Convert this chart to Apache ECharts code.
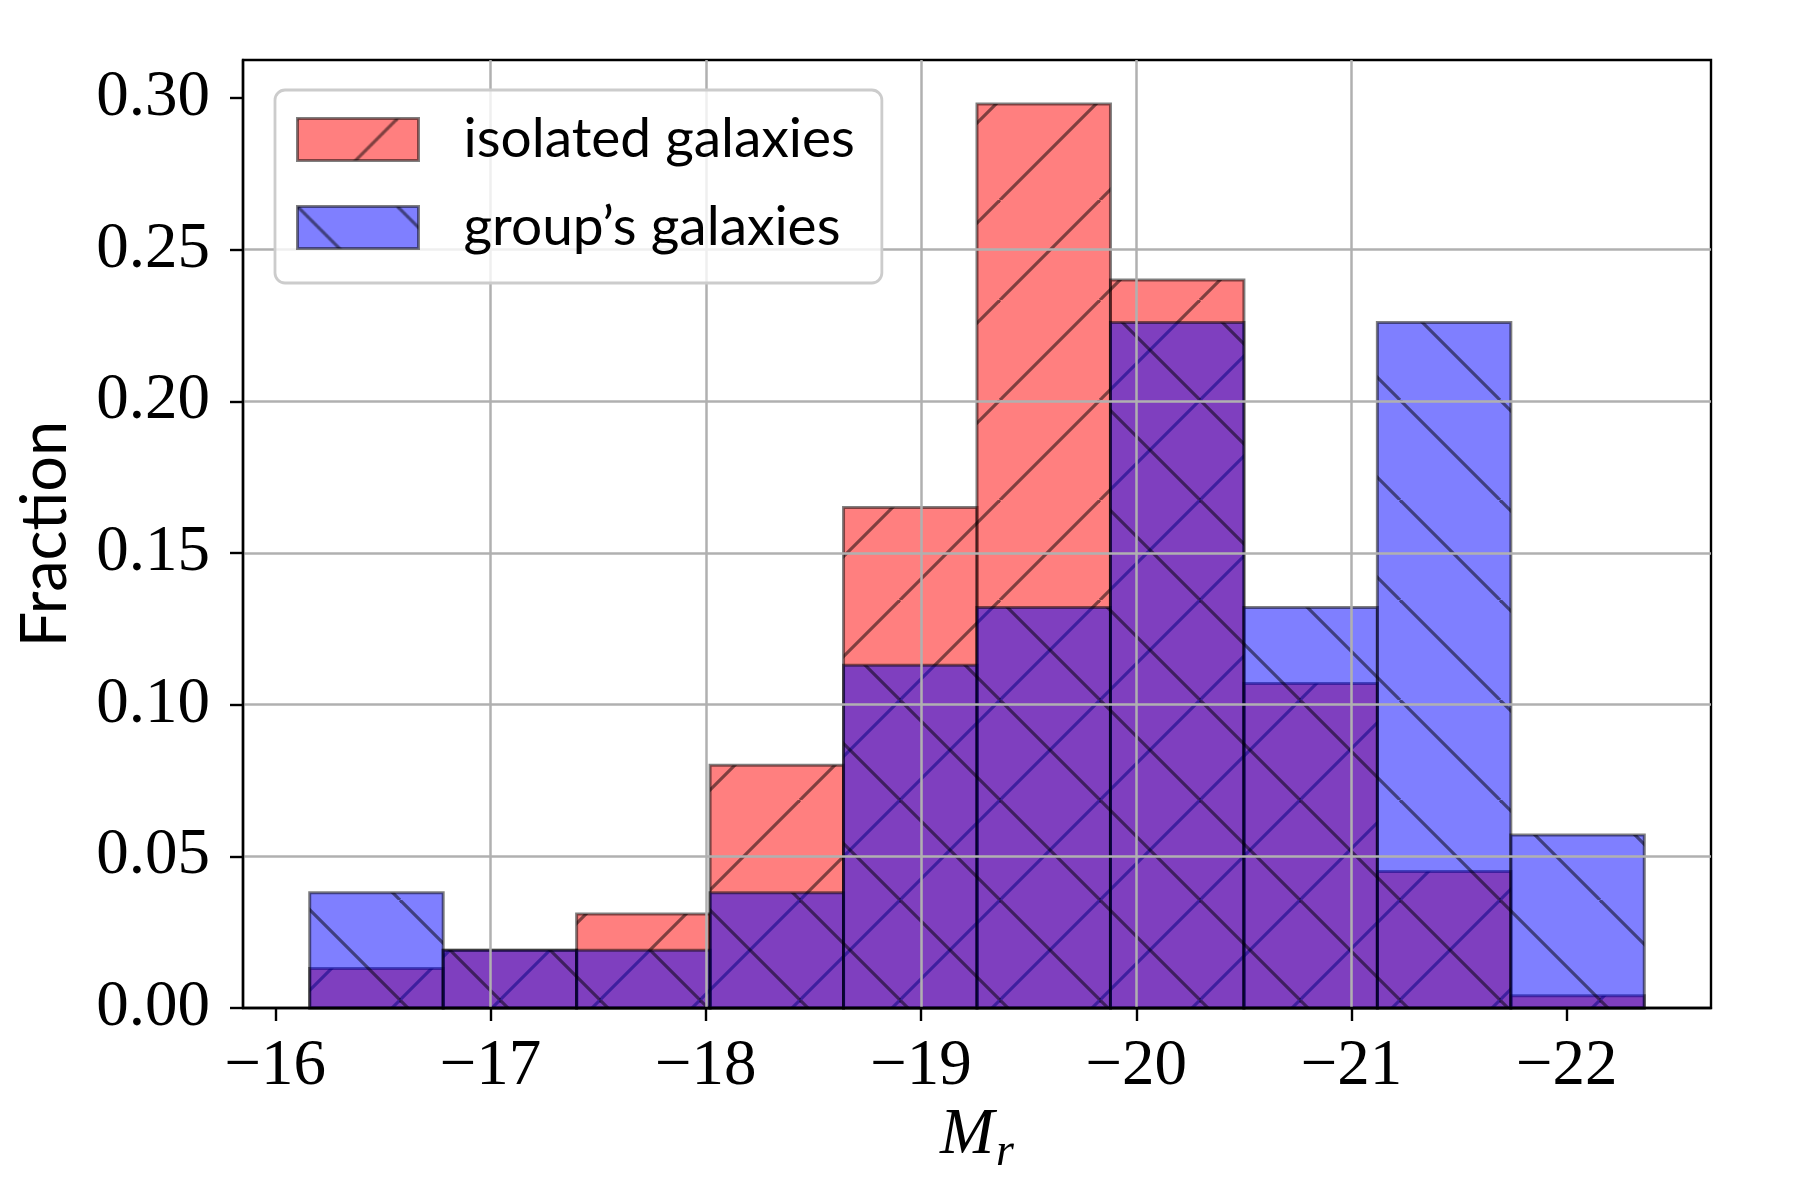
<!DOCTYPE html>
<html>
<head>
    <meta charset="utf-8">
    <title>Isolated vs group galaxies</title>
    <style>
        body {
            margin: 0;
            background: #fff;
        }

        #chart {
            width: 1800px;
            height: 1200px;
        }
    </style>
    <script src="https://cdn.jsdelivr.net/npm/echarts@6/dist/echarts.min.js"></script>
</head>
<body>
    <div id="chart"></div>

    <script>
        // histogram bins (M_r), shared by both samples
        var binEdges = [-16.16, -16.78, -17.40, -18.02, -18.64, -19.26, -19.88, -20.50, -21.12, -21.74, -22.36];
        var isolated = [0.013, 0.019, 0.031, 0.080, 0.165, 0.298, 0.240, 0.107, 0.045, 0.004];
        var group = [0.038, 0.019, 0.019, 0.038, 0.113, 0.132, 0.226, 0.132, 0.226, 0.057];
        var seriesNames = ['isolated galaxies', 'group\u2019s galaxies'];
        var xTicks = [-16, -17, -18, -19, -20, -21, -22];
        var yTicks = [0, 0.05, 0.10, 0.15, 0.20, 0.25, 0.30];

        var serif = 'Liberation Serif';
        var sans = 'Lato';
        var edge = 'rgba(0,0,0,0.5)';

        // fill + hatch lines in one repeating tile
        function hatch(fill, dir) {
            var c = document.createElement('canvas');
            c.width = 100;
            c.height = 100;
            var ctx = c.getContext('2d');
            ctx.fillStyle = fill;
            ctx.fillRect(0, 0, 100, 100);
            ctx.strokeStyle = edge;
            ctx.lineWidth = 3.2;
            for (var off = -100; off <= 100; off += 100) {
                ctx.beginPath();
                if (dir === '/') {
                    ctx.moveTo(off, 100);
                    ctx.lineTo(off + 100, 0);
                } else {
                    ctx.moveTo(off, 0);
                    ctx.lineTo(off + 100, 100);
                }
                ctx.stroke();
            }
            return { image: c, repeat: 'repeat' };
        }

        var redFill = hatch('rgba(255,0,0,0.5)', '/');
        var blueFill = hatch('rgba(0,0,255,0.5)', '\\');

        function binData(values) {
            return values.map(function (v, i) {
                return [binEdges[i], binEdges[i + 1], v];
            });
        }

        function binRenderer(fill) {
            return function (params, api) {
                var a = api.coord([api.value(0), api.value(2)]);
                var b = api.coord([api.value(1), 0]);
                return {
                    type: 'rect',
                    shape: {
                        x: Math.min(a[0], b[0]),
                        y: a[1],
                        width: Math.abs(b[0] - a[0]),
                        height: b[1] - a[1]
                    },
                    style: { fill: fill, stroke: edge, lineWidth: 3 }
                };
            };
        }

        var myChart = echarts.init(document.getElementById('chart'));

        var option = {
            animation: false,
            grid: {
                left: 243,
                right: 89,
                top: 60,
                bottom: 192,
                show: true,
                borderColor: '#000',
                borderWidth: 2.4,
                backgroundColor: 'transparent'
            },
            legend: {
                left: 275,
                top: 90,
                orient: 'vertical',
                selectedMode: false,
                icon: 'rect',
                itemWidth: 121,
                itemHeight: 42,
                itemGap: 33,
                padding: [22, 27, 28, 21],
                backgroundColor: 'rgba(255,255,255,0.8)',
                borderColor: '#cccccc',
                borderWidth: 2.8,
                borderRadius: 10,
                z: 10,
                textStyle: {
                    fontFamily: sans,
                    fontSize: 55,
                    lineHeight: 51,
                    color: '#000',
                    padding: [0, 0, 0, 40]
                },
                data: [
                    { name: seriesNames[0], itemStyle: { color: redFill, borderColor: edge, borderWidth: 3 } },
                    { name: seriesNames[1], itemStyle: { color: blueFill, borderColor: edge, borderWidth: 3 } }
                ]
            },
            xAxis: {
                type: 'value',
                inverse: true,
                min: -22.67,
                max: -15.85,
                z: 5,
                name: '{m|M}{s|r}',
                nameLocation: 'middle',
                nameGap: 95,
                nameTextStyle: {
                    rich: {
                        m: { fontFamily: serif, fontStyle: 'italic', fontSize: 65, lineHeight: 65, verticalAlign: 'top', color: '#000' },
                        s: { fontFamily: serif, fontStyle: 'italic', fontSize: 46, lineHeight: 46, verticalAlign: 'top', padding: [26, 0, 0, 2], color: '#000' }
                    }
                },
                axisLine: { show: true, lineStyle: { color: '#000', width: 2.4 } },
                axisTick: { show: true, customValues: xTicks, length: 13, lineStyle: { color: '#000', width: 2.4 } },
                axisLabel: {
                    customValues: xTicks,
                    formatter: function (v) { return '\u2212' + Math.abs(v); },
                    fontFamily: serif,
                    fontSize: 65,
                    color: '#000',
                    margin: 26
                },
                splitLine: { show: true, showMinLine: false, showMaxLine: false, lineStyle: { color: '#b0b0b0', width: 2.5 } }
            },
            yAxis: {
                type: 'value',
                min: 0,
                max: 0.3125,
                interval: 0.05,
                z: 5,
                name: 'Fraction',
                nameLocation: 'middle',
                nameGap: 166,
                nameTextStyle: { fontFamily: sans, fontSize: 63, color: '#000' },
                axisLine: { show: true, lineStyle: { color: '#000', width: 2.4 } },
                axisTick: { show: true, customValues: yTicks, length: 13, lineStyle: { color: '#000', width: 2.4 } },
                axisLabel: {
                    customValues: yTicks,
                    formatter: function (v) { return v.toFixed(2); },
                    fontFamily: serif,
                    fontSize: 65,
                    color: '#000',
                    margin: 33
                },
                splitLine: { show: true, showMinLine: false, showMaxLine: false, lineStyle: { color: '#b0b0b0', width: 2.5 } }
            },
            series: [
                {
                    name: seriesNames[0],
                    type: 'custom',
                    renderItem: binRenderer(redFill),
                    itemStyle: { color: redFill, borderColor: edge, borderWidth: 3 },
                    encode: { x: [0, 1], y: 2 },
                    data: binData(isolated)
                },
                {
                    name: seriesNames[1],
                    type: 'custom',
                    renderItem: binRenderer(blueFill),
                    itemStyle: { color: blueFill, borderColor: edge, borderWidth: 3 },
                    encode: { x: [0, 1], y: 2 },
                    data: binData(group)
                }
            ]
        };

        myChart.setOption(option);
    </script>
</body>
</html>
